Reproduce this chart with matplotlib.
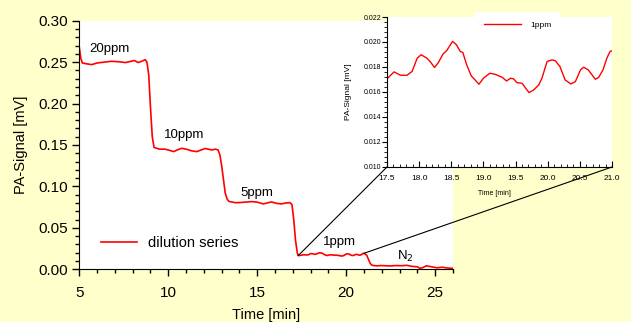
import numpy as np
import matplotlib
matplotlib.use("Agg")
import matplotlib.pyplot as plt
from matplotlib.patches import ConnectionPatch
from matplotlib.ticker import MultipleLocator

plt.rcParams["font.family"] = ["Liberation Sans", "DejaVu Sans"]

# Messreihe (Hauptdiagramm)
t_main = [5.0, 5.08, 5.17, 5.4, 5.7, 6.0, 6.4, 6.8, 7.2, 7.6, 7.9, 8.1, 8.3, 8.5, 8.7,
          8.8, 8.9, 9.0, 9.1, 9.2, 9.5, 9.8, 10.0, 10.3, 10.5, 10.75, 11.0, 11.3, 11.6,
          11.85, 12.06, 12.25, 12.44, 12.65, 12.8, 12.9, 13.0, 13.1, 13.2, 13.3, 13.4,
          13.75, 14.0, 14.3, 14.69, 15.0, 15.34, 15.55, 15.8, 16.1, 16.37, 16.6, 16.84,
          16.95, 17.05, 17.15, 17.25, 17.3, 17.4]
s_main = [0.268, 0.255, 0.249, 0.248, 0.247, 0.249, 0.250, 0.251, 0.2505, 0.2495, 0.251,
          0.252, 0.2495, 0.251, 0.253, 0.250, 0.235, 0.195, 0.160, 0.147, 0.145, 0.145,
          0.144, 0.142, 0.144, 0.146, 0.145, 0.143, 0.142, 0.144, 0.1457, 0.145, 0.144,
          0.145, 0.144, 0.138, 0.125, 0.108, 0.092, 0.085, 0.082, 0.0804, 0.0805, 0.081,
          0.0817, 0.081, 0.0789, 0.080, 0.0813, 0.0795, 0.0789, 0.080, 0.0804, 0.078,
          0.060, 0.035, 0.020, 0.0165, 0.0168]

# 1ppm-Abschnitt (auch im Ausschnitt)
t_1ppm = [17.5, 17.61, 17.71, 17.81, 17.89, 17.97, 18.03, 18.12, 18.17, 18.24, 18.30,
          18.37, 18.43, 18.52, 18.58, 18.64, 18.68, 18.74, 18.81, 18.86, 18.93, 19.00,
          19.10, 19.18, 19.29, 19.36, 19.42, 19.47, 19.52, 19.60, 19.65, 19.71, 19.78,
          19.86, 19.91, 19.99, 20.07, 20.12, 20.19, 20.27, 20.36, 20.43, 20.51, 20.56,
          20.63, 20.67, 20.74, 20.79, 20.86, 20.92, 20.97, 21.0]
s_1ppm = [0.01705, 0.01761, 0.01734, 0.01734, 0.01764, 0.01871, 0.01898, 0.01871,
          0.01844, 0.01796, 0.01836, 0.01903, 0.01932, 0.02005, 0.01978, 0.01924,
          0.01916, 0.01817, 0.01729, 0.01702, 0.01662, 0.0171, 0.0175, 0.01742,
          0.01718, 0.01688, 0.0171, 0.01705, 0.01675, 0.0167, 0.01635, 0.01595,
          0.01616, 0.01656, 0.0171, 0.01844, 0.01857, 0.01849, 0.01804, 0.01697,
          0.01664, 0.01683, 0.01777, 0.01798, 0.01777, 0.0175, 0.01702, 0.01715,
          0.01777, 0.01871, 0.01924, 0.0193]

# N2-Spuelung
t_n2 = [21.05, 21.15, 21.25, 21.35, 21.45, 21.7, 22.0, 22.45, 22.8, 23.1, 23.4, 23.7,
        24.0, 24.14, 24.3, 24.5, 24.8, 25.1, 25.4, 25.7, 26.0]
s_n2 = [0.0185, 0.017, 0.012, 0.007, 0.0048, 0.0042, 0.0045, 0.004, 0.0045, 0.0043,
        0.0048, 0.0035, 0.003, 0.0012, 0.002, 0.0042, 0.003, 0.0018, 0.0025, 0.0015,
        0.0012]

labels = ["20ppm", "10ppm", "5ppm", "1ppm", "N$_2$"]
label_pos = [(5.54, 0.266), (9.76, 0.162), (14.08, 0.092), (18.69, 0.033), (22.85, 0.015)]

zoom_from = 17.3
zoom_to = 21.0

t_all = np.array(t_main + t_1ppm + t_n2)
s_all = np.array(s_main + s_1ppm + s_n2)

bg = "#ffffcc"
fig = plt.figure(figsize=(6.31, 3.22), dpi=100, facecolor=bg)

# Hauptdiagramm
ax = fig.add_axes([0.1257, 0.1637, 0.5922, 0.772])
ax.set_facecolor("white")
ax.plot(t_all, s_all, color="red", lw=1.2, label="dilution series")
ax.set_xlim(5, 26)
ax.set_ylim(0, 0.30)
ax.xaxis.set_major_locator(MultipleLocator(5))
ax.xaxis.set_minor_locator(MultipleLocator(1))
ax.yaxis.set_major_locator(MultipleLocator(0.05))
ax.yaxis.set_minor_locator(MultipleLocator(0.01))
ax.yaxis.set_major_formatter(matplotlib.ticker.FormatStrFormatter("%.2f"))
for side in ["top", "right"]:
    ax.spines[side].set_visible(False)
ax.tick_params(which="major", length=5, width=1, labelsize=11)
ax.tick_params(which="minor", length=3, width=1)
ax.tick_params(axis="x", which="major", pad=7)
ax.set_xlabel("Time [min]", fontsize=10.5)
ax.set_ylabel("PA-Signal [mV]", fontsize=10.5)
ax.xaxis.set_label_coords(0.5, -0.155)
ax.yaxis.set_label_coords(-0.137, 0.5)
for txt, (x, y) in zip(labels, label_pos):
    ax.text(x, y, txt, fontsize=9.5, ha="left", va="center")
ax.legend(loc="center left", bbox_to_anchor=(0.058, 0.106), frameon=False,
          fontsize=10.5, handlelength=2.5, handletextpad=0.7,
          borderpad=0, borderaxespad=0)

# Ausschnitt 1ppm
axin = fig.add_axes([0.6133, 0.4814, 0.3566, 0.4658])
axin.set_facecolor("white")
axin.plot(t_1ppm, s_1ppm, color="red", lw=1.0, label="1ppm")
axin.set_xlim(17.5, 21.0)
axin.set_ylim(0.010, 0.022)
axin.xaxis.set_major_locator(MultipleLocator(0.5))
axin.xaxis.set_minor_locator(MultipleLocator(0.1))
axin.yaxis.set_major_locator(MultipleLocator(0.002))
axin.yaxis.set_minor_locator(MultipleLocator(0.0004))
axin.xaxis.set_major_formatter(matplotlib.ticker.FormatStrFormatter("%.1f"))
axin.yaxis.set_major_formatter(matplotlib.ticker.FormatStrFormatter("%.3f"))
for side in ["top", "right"]:
    axin.spines[side].set_visible(False)
axin.tick_params(axis="x", which="major", direction="in", length=4, labelsize=6, pad=6)
axin.tick_params(axis="x", which="minor", direction="in", length=2.5)
axin.tick_params(axis="y", which="major", length=3.5, labelsize=5, pad=0.8)
axin.tick_params(axis="y", which="minor", length=2)
axin.set_xlabel("Time [min]", fontsize=5)
axin.set_ylabel("PA-Signal [mV]", fontsize=6)
axin.xaxis.set_label_coords(0.476, -0.153)
axin.yaxis.set_label_coords(-0.156, 0.5)
axin.legend(loc="upper left", bbox_to_anchor=(0.391, 1.033), fontsize=6,
            handlelength=4.4, handletextpad=1.1, borderpad=1.1, borderaxespad=0,
            frameon=True, fancybox=False, facecolor="white", edgecolor="none",
            framealpha=1)

# Verbindungslinien
for t_src, corner in [(zoom_from, (0, 0)), (zoom_to, (1, 0))]:
    con = ConnectionPatch(xyA=(t_src, np.interp(t_src, t_all, s_all)), coordsA=ax.transData,
                          xyB=corner, coordsB=axin.transAxes, color="black", lw=0.8)
    fig.add_artist(con)

fig.savefig("out.png", dpi=100, facecolor=bg)
